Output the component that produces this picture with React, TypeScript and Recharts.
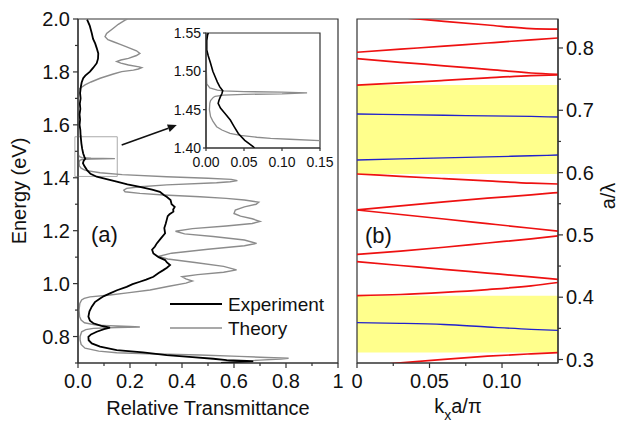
import React from "react";
import {
  LineChart,
  Line,
  XAxis,
  YAxis,
  ReferenceArea,
  ReferenceLine,
  Legend,
} from "recharts";

const FONT = "'Liberation Sans', Arial, Helvetica, sans-serif";
const AXIS = "#333";
const INK = "#111";

// ---- panel (a): transmittance spectra, energy (eV) on the vertical axis
const EXP_E = [
  1.998, 1.975, 1.946, 1.925, 1.908, 1.89, 1.87, 1.85, 1.833, 1.815,
  1.801, 1.786, 1.776, 1.76, 1.744, 1.72, 1.7, 1.68, 1.66, 1.64,
  1.62, 1.6, 1.58, 1.56, 1.53, 1.51, 1.492, 1.478, 1.472, 1.465,
  1.455, 1.445, 1.43, 1.415, 1.404, 1.395, 1.385, 1.375, 1.366, 1.355,
  1.347, 1.335, 1.328, 1.316, 1.3, 1.29, 1.28, 1.272, 1.262, 1.255,
  1.24, 1.225, 1.21, 1.19, 1.17, 1.152, 1.14, 1.128, 1.114, 1.1,
  1.089, 1.08, 1.07, 1.06, 1.051, 1.04, 1.026, 1.015, 1.007, 0.998,
  0.988, 0.975, 0.963, 0.953, 0.944, 0.93, 0.913, 0.895, 0.875, 0.86,
  0.85, 0.84, 0.834, 0.828, 0.818, 0.808, 0.799, 0.786, 0.774, 0.762,
  0.749, 0.74, 0.73, 0.722, 0.716, 0.711, 0.708, 0.706, 0.703, 0.7,
];
const EXP_T = [
  0.035, 0.045, 0.053, 0.058, 0.066, 0.072, 0.078, 0.077, 0.072, 0.058,
  0.046, 0.028, 0.02, 0.014, 0.011, 0.008, 0.01, 0.007, 0.009, 0.006,
  0.008, 0.006, 0.009, 0.01, 0.013, 0.016, 0.02, 0.025, 0.028, 0.022,
  0.019, 0.024, 0.034, 0.048, 0.072, 0.11, 0.149, 0.19, 0.238, 0.285,
  0.315, 0.33, 0.341, 0.356, 0.36, 0.372, 0.366, 0.367, 0.352, 0.345,
  0.341, 0.337, 0.332, 0.335, 0.318, 0.303, 0.296, 0.285, 0.29, 0.31,
  0.335, 0.342, 0.354, 0.342, 0.328, 0.31, 0.29, 0.262, 0.238, 0.21,
  0.187, 0.15, 0.123, 0.1, 0.085, 0.065, 0.053, 0.044, 0.04, 0.046,
  0.059, 0.09, 0.123, 0.1, 0.072, 0.05, 0.04, 0.041, 0.053, 0.085,
  0.149, 0.25, 0.341, 0.44, 0.52, 0.572, 0.65, 0.674, 0.6, 0.55,
];

const THEORY_E = [
  2.0, 1.996, 1.98, 1.965, 1.945, 1.933, 1.922, 1.914, 1.905, 1.895,
  1.88, 1.87, 1.862, 1.851, 1.845, 1.839, 1.833, 1.826, 1.819, 1.816,
  1.811, 1.807, 1.801, 1.792, 1.776, 1.762, 1.751, 1.742, 1.735, 1.7,
  1.6, 1.5, 1.485, 1.48, 1.476, 1.4735, 1.4725, 1.4712, 1.469, 1.466,
  1.458, 1.445, 1.436, 1.428, 1.419, 1.412, 1.404, 1.398, 1.394, 1.389,
  1.385, 1.381, 1.373, 1.366, 1.36, 1.353, 1.347, 1.341, 1.335, 1.328,
  1.322, 1.316, 1.308, 1.3, 1.29, 1.278, 1.265, 1.255, 1.245, 1.235,
  1.227, 1.218, 1.208, 1.198, 1.188, 1.178, 1.165, 1.152, 1.143, 1.13,
  1.115, 1.103, 1.093, 1.08, 1.065, 1.052, 1.043, 1.034, 1.026, 1.018,
  1.01, 1.002, 0.99, 0.976, 0.965, 0.957, 0.95, 0.944, 0.938, 0.925,
  0.9, 0.876, 0.862, 0.852, 0.843, 0.838, 0.836, 0.834, 0.831, 0.826,
  0.818, 0.8, 0.787, 0.77, 0.756, 0.745, 0.739, 0.734, 0.73, 0.725,
  0.721, 0.718, 0.715, 0.711, 0.706, 0.7,
];
const THEORY_T = [
  0.19, 0.181, 0.155, 0.136, 0.11, 0.104, 0.115, 0.136, 0.16, 0.187,
  0.225, 0.238, 0.225, 0.194, 0.165, 0.149, 0.165, 0.194, 0.235, 0.245,
  0.232, 0.213, 0.168, 0.136, 0.085, 0.05, 0.027, 0.014, 0.004, 0.001,
  0.001, 0.001, 0.002, 0.006, 0.015, 0.05, 0.142, 0.05, 0.015, 0.007,
  0.004, 0.005, 0.012, 0.028, 0.085, 0.17, 0.341, 0.5, 0.59, 0.613,
  0.585, 0.533, 0.341, 0.24, 0.187, 0.176, 0.181, 0.238, 0.33, 0.469,
  0.57, 0.64, 0.695, 0.685, 0.64, 0.605, 0.6, 0.625, 0.67, 0.7,
  0.67, 0.57, 0.44, 0.375, 0.41, 0.52, 0.64, 0.687, 0.64, 0.5,
  0.36, 0.31, 0.345, 0.45, 0.56, 0.61, 0.56, 0.46, 0.4, 0.415,
  0.44, 0.415, 0.35, 0.277, 0.19, 0.123, 0.046, 0.024, 0.014, 0.007,
  0.004, 0.006, 0.012, 0.025, 0.07, 0.2, 0.238, 0.15, 0.059, 0.03,
  0.014, 0.008, 0.008, 0.012, 0.027, 0.08, 0.149, 0.3, 0.469, 0.62,
  0.726, 0.81, 0.78, 0.7, 0.63, 0.58,
];

// inset: zoom on 1.40 - 1.55 eV
const INSET_EXP_E = [
  1.55, 1.547, 1.54, 1.528, 1.52, 1.5105, 1.5, 1.493, 1.486, 1.48, 1.4747, 1.471,
  1.467, 1.462, 1.4583, 1.452, 1.445, 1.4365, 1.428, 1.419, 1.41, 1.4017, 1.4,
];
const INSET_EXP_T = [
  0.003, 0.002, 0.001, 0.001, 0.003, 0.006, 0.009, 0.012, 0.015, 0.018, 0.022, 0.021,
  0.019, 0.017, 0.016, 0.019, 0.025, 0.032, 0.037, 0.0425, 0.051, 0.062, 0.064,
];
const INSET_THEORY_E = [
  1.55, 1.5, 1.4837, 1.4785, 1.4755, 1.4745, 1.4735, 1.473, 1.4718, 1.4705, 1.47, 1.469,
  1.4675, 1.466, 1.462, 1.4583, 1.45, 1.4409, 1.435, 1.4278, 1.4235, 1.4192, 1.4165,
  1.414, 1.4125, 1.4114, 1.4095, 1.408,
];
const INSET_THEORY_T = [
  0.0005, 0.0005, 0.001, 0.005, 0.015, 0.023, 0.05, 0.1, 0.133, 0.1, 0.05, 0.023,
  0.012, 0.0096, 0.006, 0.005, 0.0045, 0.006, 0.009, 0.014, 0.021, 0.0316, 0.045,
  0.0667, 0.085, 0.11, 0.15, 0.17,
];

const E_TICKS = [0.7, 0.8, 0.9, 1.0, 1.1, 1.2, 1.3, 1.4, 1.5, 1.6, 1.7, 1.8, 1.9, 2.0];
const T_TICKS = [0, 0.1, 0.2, 0.3, 0.4, 0.5, 0.6, 0.7, 0.8, 0.9, 1];
const INSET_E_TICKS = [1.4, 1.45, 1.5, 1.55];
const INSET_T_TICKS = [0, 0.05, 0.1, 0.15];

// zoom box and arrow pointing to the inset (data coords)
const ZOOM_BOX = { t1: -0.012, t2: 0.151, e1: 1.405, e2: 1.555 };
const ARROW = [
  { x: 0.168, y: 1.524 },
  { x: 0.38, y: 1.599 },
];

// ---- panel (b): photonic bands, a/lambda vs kx a/pi
const K_MAX = 0.1386;
const A_MIN = 0.2944;
const A_MAX = 0.8465;
const KX = [0, 0.03, 0.06, 0.09, 0.12, 0.1386];
const RED_BANDS = [
  [0.8548, 0.8489, 0.8428, 0.8369, 0.8311, 0.8301],
  [0.7931, 0.798, 0.803, 0.808, 0.813, 0.816],
  [0.7828, 0.777, 0.7714, 0.7656, 0.7598, 0.7578],
  [0.7404, 0.7441, 0.748, 0.752, 0.7555, 0.7568],
  [0.5977, 0.594, 0.5903, 0.5866, 0.5831, 0.5817],
  [0.54, 0.5467, 0.553, 0.5589, 0.5643, 0.568],
  [0.54, 0.5327, 0.5255, 0.5181, 0.5107, 0.5062],
  [0.4688, 0.4741, 0.4802, 0.487, 0.4937, 0.4985],
  [0.457, 0.4509, 0.4447, 0.4387, 0.4326, 0.4287],
  [0.4024, 0.4043, 0.4078, 0.4123, 0.4182, 0.4236],
  [0.288, 0.2947, 0.3003, 0.3053, 0.3091, 0.3112],
];
const BLUE_BANDS = [
  [0.694, 0.693, 0.692, 0.6911, 0.6901, 0.6892],
  [0.6202, 0.6219, 0.6236, 0.6253, 0.627, 0.6282],
  [0.3591, 0.3581, 0.3562, 0.3522, 0.3485, 0.3469],
];
const GAPS = [
  [0.3112, 0.4024],
  [0.5977, 0.7404],
];
const K_TICKS = [0, 0.025, 0.05, 0.075, 0.1, 0.125];
const A_TICKS = [0.3, 0.35, 0.4, 0.45, 0.5, 0.55, 0.6, 0.65, 0.7, 0.75, 0.8];

const zip = (es: number[], ts: number[]) => es.map((e, i) => ({ e, t: ts[i] }));

function AxisTick(props: any) {
  const {
    x = 0, y = 0, payload, side, major, fmt,
    size = 20, len = 5, minorLen = 3, offset = 25,
  } = props;
  const v = Number(payload?.value);
  const isMajor = major(v);
  const l = isMajor ? len : minorLen;
  const txt = { fontSize: size, fontFamily: FONT, fill: INK };
  if (side === "bottom") {
    return (
      <g>
        <line x1={x} x2={x} y1={y} y2={y + l} stroke={AXIS} strokeWidth={1.2} />
        {isMajor && (
          <text x={x} y={y + offset} textAnchor="middle" {...txt}>
            {fmt(v)}
          </text>
        )}
      </g>
    );
  }
  const dir = side === "left" ? -1 : 1;
  return (
    <g>
      <line x1={x} x2={x + dir * l} y1={y} y2={y} stroke={AXIS} strokeWidth={1.2} />
      {isMajor && (
        <text
          x={x + dir * offset}
          y={y + size * 0.36}
          textAnchor={side === "left" ? "end" : "start"}
          {...txt}
        >
          {fmt(v)}
        </text>
      )}
    </g>
  );
}

function ArrowShape(props: any) {
  const { x1, y1, x2, y2 } = props;
  const ang = Math.atan2(y2 - y1, x2 - x1);
  const h = 9;
  const w = 4;
  const bx = x2 - h * Math.cos(ang);
  const by = y2 - h * Math.sin(ang);
  const pts = [
    [x2, y2],
    [bx + w * Math.sin(ang), by - w * Math.cos(ang)],
    [bx - w * Math.sin(ang), by + w * Math.cos(ang)],
  ];
  return (
    <g>
      <line x1={x1} y1={y1} x2={bx} y2={by} stroke={INK} strokeWidth={1.6} />
      <polygon points={pts.map(p => p.join(",")).join(" ")} fill={INK} />
    </g>
  );
}

function SpectraLegend(props: any) {
  const items = props.payload ?? [];
  return (
    <svg width={170} height={52} style={{ display: "block" }}>
      {items.map((it: any, i: number) => (
        <g key={it.value}>
          <line
            x1={5} x2={57} y1={12 + 24 * i} y2={12 + 24 * i}
            stroke={it.color} strokeWidth={i === 0 ? 2 : 1.5}
          />
          <text x={63} y={19 + 24 * i} fontSize={19} fontFamily={FONT} fill={INK}>
            {it.value}
          </text>
        </g>
      ))}
    </svg>
  );
}

const axisLine = { stroke: AXIS, strokeWidth: 1.2 };
const tenth = (v: number) => Math.round(v * 10) % 2 === 0;

function SpectraPanel() {
  return (
    <LineChart
      layout="vertical"
      width={345}
      height={424}
      margin={{ top: 19, right: 7, bottom: 31, left: 18 }}
    >
      <XAxis
        type="number"
        domain={[0, 1]}
        allowDataOverflow
        ticks={T_TICKS}
        interval={0}
        height={30}
        tickLine={false}
        tickSize={0}
        tickMargin={0}
        axisLine={axisLine}
        tick={
          <AxisTick
            side="bottom"
            major={tenth}
            fmt={(v: number) => (v === 1 ? "1" : v.toFixed(1))}
          />
        }
      />
      <YAxis
        type="number"
        dataKey="e"
        domain={[0.7, 2.0]}
        reversed
        allowDataOverflow
        ticks={E_TICKS}
        interval={0}
        width={60}
        tickLine={false}
        tickSize={0}
        tickMargin={0}
        axisLine={axisLine}
        tick={
          <AxisTick side="left" major={tenth} fmt={(v: number) => v.toFixed(1)} offset={8} />
        }
      />
      <ReferenceArea x1={0} x2={1} y1={0.7} y2={2.0} fill="none" stroke={AXIS} strokeWidth={1.2} />
      <ReferenceArea
        x1={ZOOM_BOX.t1}
        x2={ZOOM_BOX.t2}
        y1={ZOOM_BOX.e1}
        y2={ZOOM_BOX.e2}
        ifOverflow="visible"
        fill="none"
        stroke="#aaa"
        strokeWidth={1}
      />
      <ReferenceLine segment={ARROW} shape={ArrowShape} ifOverflow="visible" />
      <Line
        name="Theory"
        data={zip(THEORY_E, THEORY_T)}
        dataKey="t"
        stroke="#8c8c8c"
        strokeWidth={1.4}
        type="linear"
        dot={false}
        activeDot={false}
        isAnimationActive={false}
      />
      <Line
        name="Experiment"
        data={zip(EXP_E, EXP_T)}
        dataKey="t"
        stroke="#000"
        strokeWidth={1.8}
        type="linear"
        dot={false}
        activeDot={false}
        isAnimationActive={false}
      />
      <Legend
        layout="vertical"
        align="center"
        verticalAlign="middle"
        content={SpectraLegend}
        wrapperStyle={{ left: 165, top: 292, width: 170, height: 52 }}
      />
    </LineChart>
  );
}

function InsetPanel() {
  const two = (v: number) => v.toFixed(2);
  return (
    <LineChart
      layout="vertical"
      width={196}
      height={160}
      margin={{ top: 13, right: 26, bottom: 7, left: 16 }}
    >
      <XAxis
        type="number"
        domain={[0, 0.15]}
        allowDataOverflow
        ticks={INSET_T_TICKS}
        interval={0}
        height={25}
        tickLine={false}
        tickSize={0}
        tickMargin={0}
        axisLine={axisLine}
        tick={<AxisTick side="bottom" major={() => true} fmt={two} size={14} len={3} offset={19} />}
      />
      <YAxis
        type="number"
        dataKey="e"
        domain={[1.4, 1.55]}
        reversed
        allowDataOverflow
        ticks={INSET_E_TICKS}
        interval={0}
        width={40}
        tickLine={false}
        tickSize={0}
        tickMargin={0}
        axisLine={axisLine}
        tick={<AxisTick side="left" major={() => true} fmt={two} size={14} len={3} offset={5} />}
      />
      <ReferenceArea x1={0} x2={0.15} y1={1.4} y2={1.55} fill="#fff" fillOpacity={1} stroke={AXIS} strokeWidth={1.2} />
      <Line
        name="Theory"
        data={zip(INSET_THEORY_E, INSET_THEORY_T)}
        dataKey="t"
        stroke="#8c8c8c"
        strokeWidth={1.3}
        type="linear"
        dot={false}
        activeDot={false}
        isAnimationActive={false}
      />
      <Line
        name="Experiment"
        data={zip(INSET_EXP_E, INSET_EXP_T)}
        dataKey="t"
        stroke="#000"
        strokeWidth={1.6}
        type="linear"
        dot={false}
        activeDot={false}
        isAnimationActive={false}
      />
    </LineChart>
  );
}

function BandPanel() {
  const rows = KX.map((k, j) => {
    const row: Record<string, number> = { k };
    RED_BANDS.forEach((b, i) => (row[`r${i}`] = b[j]));
    BLUE_BANDS.forEach((b, i) => (row[`b${i}`] = b[j]));
    return row;
  });
  return (
    <LineChart
      width={279}
      height={424}
      data={rows}
      margin={{ top: 19, right: 11, bottom: 31, left: 17 }}
    >
      <XAxis
        type="number"
        dataKey="k"
        domain={[0, K_MAX]}
        allowDataOverflow
        ticks={K_TICKS}
        interval={0}
        height={30}
        tickLine={false}
        tickSize={0}
        tickMargin={0}
        axisLine={axisLine}
        tick={
          <AxisTick
            side="bottom"
            major={(v: number) => Math.round(v * 1000) % 50 === 0}
            fmt={(v: number) => (v === 0 ? "0" : v.toFixed(2))}
          />
        }
      />
      <YAxis
        orientation="right"
        type="number"
        domain={[A_MIN, A_MAX]}
        allowDataOverflow
        ticks={A_TICKS}
        interval={0}
        width={50}
        tickLine={false}
        tickSize={0}
        tickMargin={0}
        axisLine={axisLine}
        tick={
          <AxisTick
            side="right"
            major={(v: number) => Math.round(v * 100) % 10 === 0}
            fmt={(v: number) => v.toFixed(1)}
            offset={8}
          />
        }
      />
      {GAPS.map(([lo, hi], i) => (
        <ReferenceArea key={`gap${i}`} y1={lo} y2={hi} fill="#ffff8c" fillOpacity={1} stroke="none" />
      ))}
      <ReferenceArea x1={0} x2={K_MAX} y1={A_MIN} y2={A_MAX} fill="none" stroke={AXIS} strokeWidth={1.2} />
      {RED_BANDS.map((_, i) => (
        <Line
          key={`r${i}`}
          dataKey={`r${i}`}
          stroke="#ee1111"
          strokeWidth={1.7}
          type="monotone"
          dot={false}
          activeDot={false}
          isAnimationActive={false}
        />
      ))}
      {BLUE_BANDS.map((_, i) => (
        <Line
          key={`b${i}`}
          dataKey={`b${i}`}
          stroke="#2222cc"
          strokeWidth={1.3}
          type="monotone"
          dot={false}
          activeDot={false}
          isAnimationActive={false}
        />
      ))}
    </LineChart>
  );
}

export default function App() {
  const txt = { fontFamily: FONT, fill: INK };
  return (
    <div style={{ position: "absolute", left: 0, top: 0, width: 619, height: 424, background: "#fff" }}>
      <div style={{ position: "absolute", left: 0, top: 0 }}>
        <SpectraPanel />
      </div>
      <div style={{ position: "absolute", left: 340, top: 0 }}>
        <BandPanel />
      </div>
      <div style={{ position: "absolute", left: 150, top: 20 }}>
        <InsetPanel />
      </div>
      <svg
        width={619}
        height={424}
        style={{ position: "absolute", left: 0, top: 0, pointerEvents: "none" }}
      >
        <text transform="translate(26,191) rotate(-90)" textAnchor="middle" fontSize={20} {...txt}>
          Energy (eV)
        </text>
        <text x={208} y={415} textAnchor="middle" fontSize={20} {...txt}>
          Relative Transmittance
        </text>
        <text x={91} y={242} fontSize={22} {...txt}>(a)</text>
        <text x={365} y={243} fontSize={22} {...txt}>(b)</text>
        <text x={458} y={413} textAnchor="middle" fontSize={20} {...txt}>
          k<tspan fontSize={14} dy={7}>x</tspan>
          <tspan dy={-7}>a/π</tspan>
        </text>
        <text transform="translate(615,196) rotate(-90)" textAnchor="middle" fontSize={20} {...txt}>
          a/λ
        </text>
      </svg>
    </div>
  );
}
